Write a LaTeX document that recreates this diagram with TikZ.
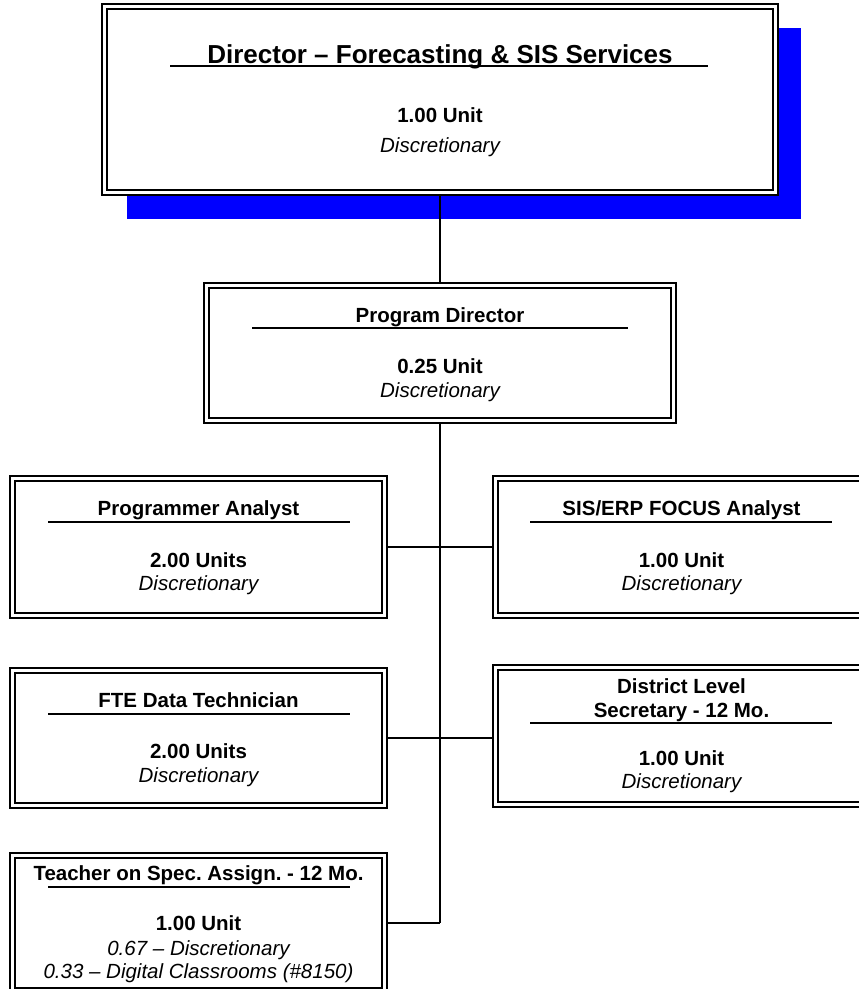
\documentclass[tikz,border=0pt]{standalone}
\usepackage{fontspec}
\setmainfont{Liberation Sans}
\frenchspacing
\begin{document}
\begin{tikzpicture}[x=1pt,y=-1pt,
  box/.style={draw=black, line width=1.4pt, double=white, double distance=3.6pt,
    fill=white, inner sep=0pt, outer sep=3.2pt, rectangle},
  conn/.style={draw=black, line width=1.5pt},
  uline/.style={draw=black, line width=1.4pt},
  ttl/.style={anchor=base, inner sep=0pt, font=\fontsize{20.5}{24}\selectfont\bfseries},
  bigttl/.style={anchor=base, inner sep=0pt, font=\fontsize{26}{30}\selectfont\bfseries},
  unit/.style={anchor=base, inner sep=0pt, font=\fontsize{20.5}{24}\selectfont\bfseries},
  disc/.style={anchor=base, inner sep=0pt, font=\fontsize{20.5}{24}\selectfont\itshape}]
\clip (0,0) rectangle (859,989);
\fill[white] (0,0) rectangle (859,989);
% shadow
\fill[blue] (127,28) rectangle (801,219);
% boxes
\node[box, minimum width=671pt, minimum height=186pt] (dir) at (440,99.5) {};
\node[box, minimum width=467pt, minimum height=135pt] (pd) at (440,353) {};
\node[box, minimum width=372pt, minimum height=137pt] (pa) at (198.5,547) {};
\node[box, minimum width=372pt, minimum height=137pt] (sis) at (681.5,547) {};
\node[box, minimum width=372pt, minimum height=135pt] (fte) at (198.5,738) {};
\node[box, minimum width=372pt, minimum height=137pt] (dis) at (681.5,736) {};
\node[box, minimum width=372pt, minimum height=135pt] (tsa) at (198.5,923) {};
\coordinate (j3) at (440,923);
% connectors
\draw[conn] (dir.south) -- (pd.north);
\draw[conn] (pd.south) -- (j3);
\draw[conn] (pa.east) -- (sis.west);
\draw[conn] (fte.east) -- (fte.east -| dis.west);
\draw[conn] (tsa.east) -- (j3);
% texts: director
\node[bigttl] (dir-t) at (440,63) {Director – Forecasting \& SIS Services};
\draw[uline] (170,66) -- (708,66);
\node[unit] (dir-u) at (440,122) {1.00 Unit};
\node[disc] (dir-d) at (440,152) {Discretionary};
% program director
\node[ttl] (pd-t) at (440,322) {Program Director};
\draw[uline] (252,328) -- (628,328);
\node[unit] (pd-u) at (440,373) {0.25 Unit};
\node[disc] (pd-d) at (440,397) {Discretionary};
% programmer analyst
\node[ttl] (pa-t) at (198.5,515) {Programmer Analyst};
\draw[uline] (48,522) -- (350,522);
\node[unit] (pa-u) at (198.5,567) {2.00 Units};
\node[disc] (pa-d) at (198.5,590) {Discretionary};
% sis
\node[ttl] (sis-t) at (681.5,515) {SIS/ERP FOCUS Analyst};
\draw[uline] (530,522) -- (832,522);
\node[unit] (sis-u) at (681.5,567) {1.00 Unit};
\node[disc] (sis-d) at (681.5,590) {Discretionary};
% fte
\node[ttl] (fte-t) at (198.5,707) {FTE Data Technician};
\draw[uline] (48,714) -- (350,714);
\node[unit] (fte-u) at (198.5,758) {2.00 Units};
\node[disc] (fte-d) at (198.5,782) {Discretionary};
% district
\node[ttl] (dis-t1) at (681.5,693) {District Level};
\node[ttl] (dis-t2) at (681.5,717) {Secretary - 12 Mo.};
\draw[uline] (530,723) -- (832,723);
\node[unit] (dis-u) at (681.5,765) {1.00 Unit};
\node[disc] (dis-d) at (681.5,788) {Discretionary};
% teacher
\node[ttl] (tsa-t) at (198.5,880) {Teacher on Spec. Assign. - 12 Mo.};
\draw[uline] (48,887) -- (350,887);
\node[unit] (tsa-u) at (198.5,930) {1.00 Unit};
\node[disc] (tsa-d1) at (198.5,955) {0.67 – Discretionary};
\node[disc] (tsa-d2) at (198.5,978) {0.33 – Digital Classrooms (\#8150)};
\end{tikzpicture}
\end{document}
